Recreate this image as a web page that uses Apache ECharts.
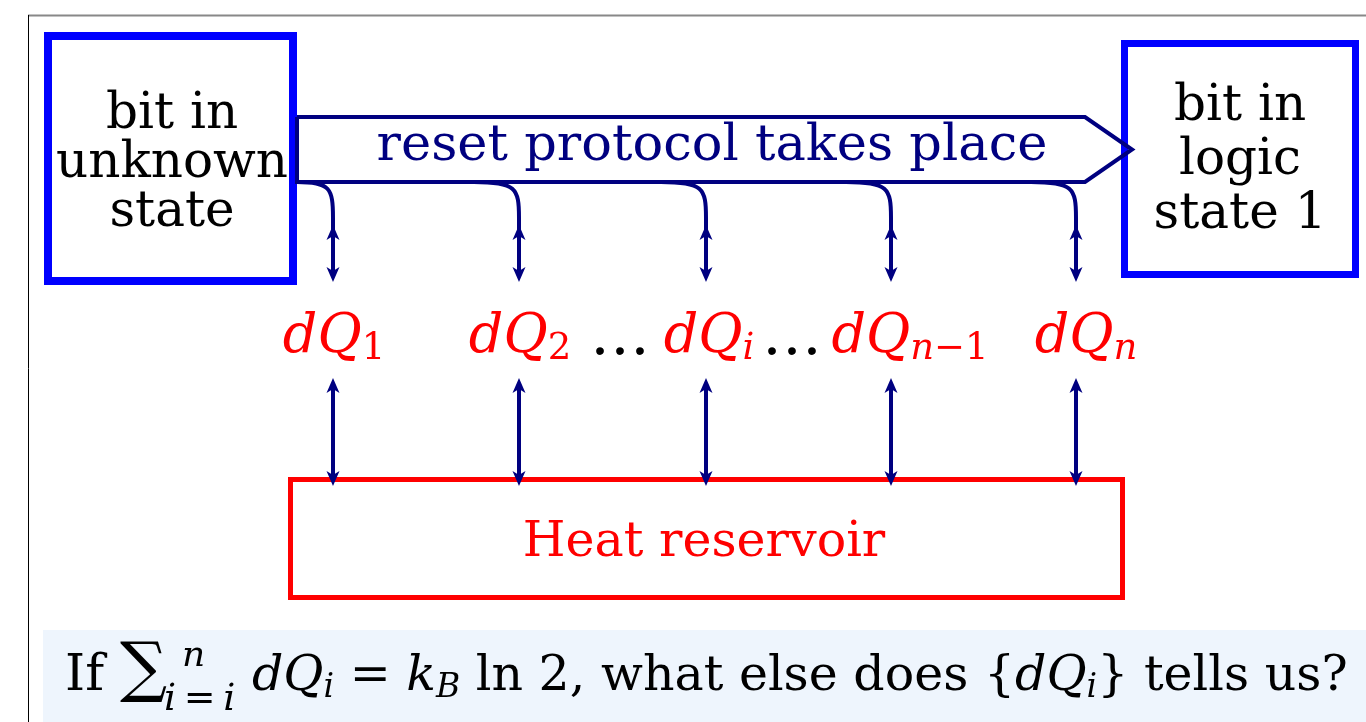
<!DOCTYPE html>
<html>
<head>
<meta charset="utf-8">
<script src="https://cdn.jsdelivr.net/npm/echarts@6/dist/echarts.min.js"></script>
<style>
  html, body { margin: 0; padding: 0; background: #fff; }
  #chart { width: 1366px; height: 722px; }
</style>
</head>
<body>
<div id="chart"></div>
<script>
// diagram units are the pixels of the original slide (x right, y down)
const boxNames = ['bit in\nunknown\nstate', 'bit in\nlogic\nstate 1', 'Heat reservoir']
const boxCorners = [[48, 36, 293, 281], [1124.5, 43.5, 1355.5, 274.5], [290.5, 479.5, 1122.5, 597.5]]
const boxTextAt = [[172, 164], [1240, 161], [704, 543]]
const bannerText = 'reset protocol takes place'
const bannerOutline = [[297, 117], [1085, 117], [1132, 149.5], [1085, 182], [297, 182], [297, 117]]
const bannerTextAt = [[712, 147]]
const branchX = [333, 519, 706, 891, 1076]
const upperArrowY = [225, 282]
const lowerArrowY = [378, 486]
const dqLabels = ['{v|dQ}{s|1}', '{v|dQ}{s|2}', '{v|dQ}{si|i}', '{v|dQ}{si|n}{s|−1}', '{v|dQ}{si|n}']
const dqLabelAt = [[334, 338], [520, 338], [709, 338], [910, 338], [1086, 338]]
const dotsAt = [[620, 338], [792, 338]]
const questionBand = [[43, 630, 1366, 722]]
const questionParts = ['If', '∑', '{m|n}', '{m|i}\u2009=\u2009{m|i}',
  '{m|dQ}{si|i} = {m|k}{si|B} ln 2, what else does {{m|dQ}{si|i}} tells us?']
const questionAt = [[65, 677], [120, 672], [182, 657], [164, 700], [252, 677]]
const frameTop = [[28, 15.5], [1366, 15.5]]
const frameLeft = [[28.5, 15], [28.5, 722]]

const SERIF = "'DejaVu Serif', 'DejaVu Sans', serif"
const NAVY = '#000080'
const BLUE = '#0000ff'
const RED = '#ff0000'
const boxColors = [BLUE, BLUE, RED]
const boxLineWidths = [8, 7, 5]
const boxFontSizes = [50, 50, 49]
const boxLineHeights = [49, 54, 50]
const questionSizes = [51, 66, 36, 38, 49]

const chart = echarts.init(document.getElementById('chart'))

function head (tip, dir) {
  const tx = tip[0]
  const ty = tip[1]
  return {
    type: 'polygon',
    shape: { points: [[tx, ty], [tx - 6.5, ty - dir * 15], [tx, ty - dir * 11], [tx + 6.5, ty - dir * 15]] },
    style: { fill: NAVY }
  }
}

const mathRich = (size, color) => ({
  v: { fontFamily: SERIF, fontStyle: 'italic', fontSize: size, lineHeight: size + 6, fill: color },
  m: { fontFamily: SERIF, fontStyle: 'italic', fontSize: size, lineHeight: size + 6, fill: color },
  s: { fontFamily: SERIF, fontSize: Math.round(size * 0.68), lineHeight: 24, verticalAlign: 'bottom', fill: color },
  si: { fontFamily: SERIF, fontStyle: 'italic', fontSize: Math.round(size * 0.68), lineHeight: 24, verticalAlign: 'bottom', fill: color }
})

const option = {
  animation: false,
  grid: { left: 0, right: 0, top: 0, bottom: 0 },
  xAxis: { type: 'value', min: 0, max: 1366, show: false },
  yAxis: { type: 'value', min: 0, max: 722, inverse: true, show: false },
  series: [
    // slide frame
    { type: 'line', data: frameTop, symbol: 'none', lineStyle: { color: '#888', width: 2 }, silent: true },
    { type: 'line', data: frameLeft, symbol: 'none', lineStyle: { color: '#000', width: 1 }, silent: true },
    // question band
    {
      type: 'custom',
      data: questionBand,
      renderItem: (params, api) => {
        const p0 = api.coord([api.value(0), api.value(1)])
        const p1 = api.coord([api.value(2), api.value(3)])
        return { type: 'rect', shape: { x: p0[0], y: p0[1], width: p1[0] - p0[0], height: p1[1] - p0[1] }, style: { fill: '#eef5fd' } }
      }
    },
    // boxes
    {
      type: 'custom',
      data: boxCorners,
      renderItem: (params, api) => {
        const i = params.dataIndex
        const p0 = api.coord([api.value(0), api.value(1)])
        const p1 = api.coord([api.value(2), api.value(3)])
        return {
          type: 'rect',
          shape: { x: p0[0], y: p0[1], width: p1[0] - p0[0], height: p1[1] - p0[1] },
          style: { fill: 'none', stroke: boxColors[i], lineWidth: boxLineWidths[i], lineJoin: 'miter' }
        }
      }
    },
    // banner arrow
    { type: 'line', data: bannerOutline, symbol: 'none', lineStyle: { color: NAVY, width: 4, join: 'miter' } },
    // branches from the banner with double arrows
    {
      type: 'custom',
      data: branchX.map(x => [x]),
      renderItem: (params, api) => {
        const x = api.value(0)
        const yb = bannerOutline[3][1]
        const s = api.coord([Math.max(x - 45, bannerOutline[0][0]), yb])
        const c1 = api.coord([x - 3, yb])
        const c2 = api.coord([x, yb + 6])
        const e = api.coord([x, yb + 36])
        const top = api.coord([x, upperArrowY[0]])
        const bot = api.coord([x, upperArrowY[1]])
        return {
          type: 'group',
          children: [
            { type: 'bezierCurve', shape: { x1: s[0], y1: s[1], cpx1: c1[0], cpy1: c1[1], cpx2: c2[0], cpy2: c2[1], x2: e[0], y2: e[1] }, style: { stroke: NAVY, lineWidth: 4, fill: 'none' } },
            { type: 'line', shape: { x1: e[0], y1: e[1], x2: bot[0], y2: bot[1] - 10 }, style: { stroke: NAVY, lineWidth: 4 } },
            head(top, -1),
            head(bot, 1)
          ]
        }
      }
    },
    // double arrows down to the reservoir
    {
      type: 'custom',
      data: branchX.map(x => [x]),
      renderItem: (params, api) => {
        const x = api.value(0)
        const top = api.coord([x, lowerArrowY[0]])
        const bot = api.coord([x, lowerArrowY[1]])
        return {
          type: 'group',
          children: [
            { type: 'line', shape: { x1: top[0], y1: top[1] + 10, x2: bot[0], y2: bot[1] - 10 }, style: { stroke: NAVY, lineWidth: 4 } },
            head(top, -1),
            head(bot, 1)
          ]
        }
      }
    },
    // box texts
    {
      type: 'custom',
      data: boxTextAt,
      renderItem: (params, api) => {
        const i = params.dataIndex
        const p = api.coord([api.value(0), api.value(1)])
        return {
          type: 'text', x: p[0], y: p[1],
          style: { text: boxNames[i], fontFamily: SERIF, fontSize: boxFontSizes[i], lineHeight: boxLineHeights[i], fill: i === 2 ? RED : '#000', align: 'center', verticalAlign: 'middle' }
        }
      }
    },
    // banner text
    {
      type: 'custom',
      data: bannerTextAt,
      renderItem: (params, api) => {
        const p = api.coord([api.value(0), api.value(1)])
        return { type: 'text', x: p[0], y: p[1], style: { text: bannerText, fontFamily: SERIF, fontSize: 51, fill: NAVY, align: 'center', verticalAlign: 'middle' } }
      }
    },
    // dQ labels
    {
      type: 'custom',
      data: dqLabelAt,
      renderItem: (params, api) => {
        const p = api.coord([api.value(0), api.value(1)])
        return { type: 'text', x: p[0], y: p[1], style: { text: dqLabels[params.dataIndex], rich: mathRich(54, RED), fontFamily: SERIF, fontSize: 54, lineHeight: 60, fill: RED, align: 'center', verticalAlign: 'middle' } }
      }
    },
    {
      type: 'custom',
      data: dotsAt,
      renderItem: (params, api) => {
        const p = api.coord([api.value(0), api.value(1)])
        return { type: 'text', x: p[0], y: p[1], style: { text: '…', fontFamily: SERIF, fontSize: 60, fill: '#000', align: 'center', verticalAlign: 'middle' } }
      }
    },
    // question
    {
      type: 'custom',
      data: questionAt,
      renderItem: (params, api) => {
        const i = params.dataIndex
        const p = api.coord([api.value(0), api.value(1)])
        const size = questionSizes[i]
        return {
          type: 'text', x: p[0], y: p[1],
          style: { text: questionParts[i], rich: mathRich(size, '#000'), fontFamily: SERIF, fontSize: size, lineHeight: size + 6, fill: '#000', align: 'left', verticalAlign: 'middle' }
        }
      }
    }
  ]
}
chart.setOption(option)
</script>
</body>
</html>
